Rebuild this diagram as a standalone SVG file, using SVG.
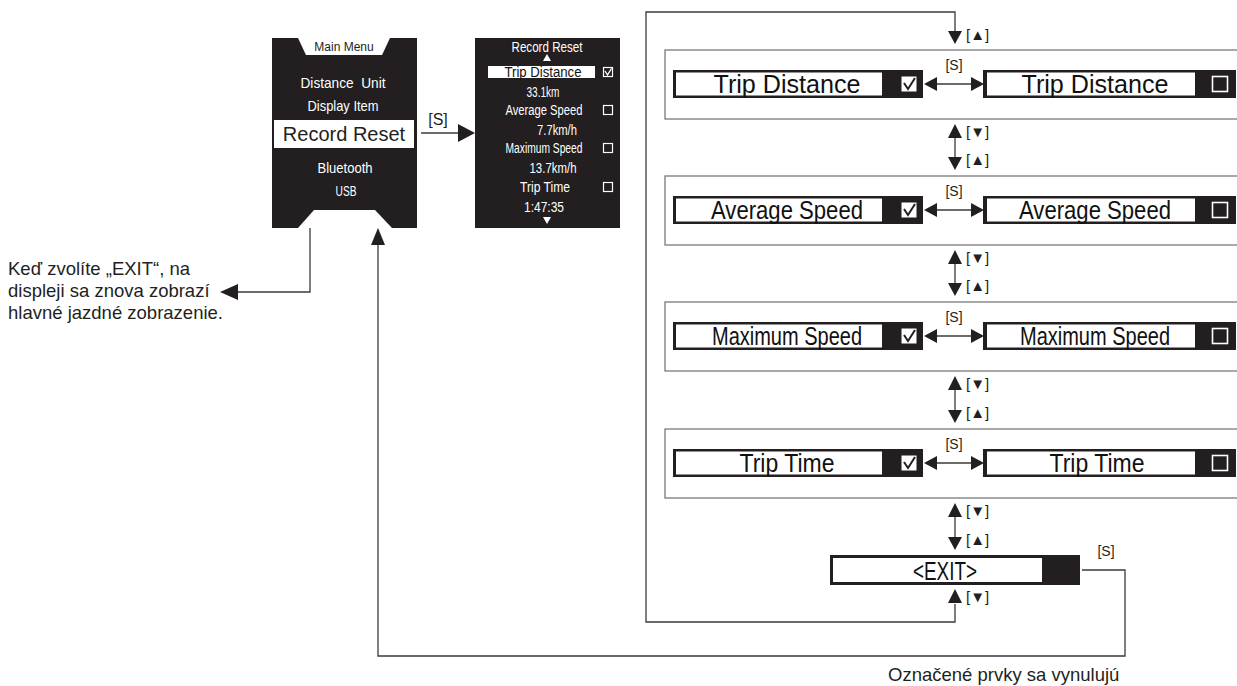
<svg xmlns="http://www.w3.org/2000/svg" width="1237" height="686" viewBox="0 0 1237 686">
<style>
.bg{fill:#ffffff}
.blk{fill:#231f20}
.wht{fill:#ffffff}
.scr{font-family:"Liberation Sans",Arial,sans-serif;text-anchor:middle}
.sw{fill:#ffffff}
.sb{fill:#111111}
.big{font-size:25px}
.mm{font-size:15px}
.rr{font-size:14px}
.lbl{font-family:"Liberation Sans",Arial,sans-serif;fill:#231f20}
.ln{fill:none;stroke:#3a3a3a;stroke-width:1.3}
.grp{fill:none;stroke:#7a7a7a;stroke-width:1.3}
.ah{fill:#231f20}
.cbw{fill:#ffffff;stroke:#231f20;stroke-width:1}
.chk{fill:none;stroke:#231f20;stroke-width:2}
.cbo{fill:#231f20;stroke:#ffffff;stroke-width:1.6}
.chkw{fill:none;stroke:#ffffff;stroke-width:1.4}
</style>
<defs>
<g id="rowL">
<rect class="blk" x="0" y="0" width="250" height="28"/>
<rect class="wht" x="3" y="2.5" width="206" height="23"/>
<rect class="cbw" x="228" y="6" width="16" height="16"/>
<polyline class="chk" points="231,13 235,19 242,8"/>
</g>
<g id="rowR">
<rect class="blk" x="0" y="0" width="253" height="28"/>
<rect class="wht" x="4" y="2.5" width="208" height="23"/>
<rect class="cbo" x="229.5" y="6.5" width="15" height="15"/>
</g>
</defs>
<rect class="bg" x="0" y="0" width="1237" height="686"/>

<g id="main-menu">
<rect class="blk" x="272" y="38" width="145" height="190"/>
<polygon class="wht" points="298,38 390,38 382,55 306,55"/>
<text class="lbl" x="344" y="51" font-size="12" text-anchor="middle">Main Menu</text>
<text class="scr sw mm" x="343" y="88" style="white-space:pre" textLength="85" lengthAdjust="spacingAndGlyphs">Distance  Unit</text>
<text class="scr sw mm" x="343" y="111" textLength="71" lengthAdjust="spacingAndGlyphs">Display Item</text>
<rect class="wht" x="274" y="120" width="140" height="28"/>
<text class="lbl" x="344" y="141" font-size="20" text-anchor="middle">Record Reset</text>
<text class="scr sw mm" x="345" y="173" textLength="55" lengthAdjust="spacingAndGlyphs">Bluetooth</text>
<text class="scr sw mm" x="346" y="196" textLength="21" lengthAdjust="spacingAndGlyphs">USB</text>
<polygon class="wht" points="314,210 375,210 392,228 298,228"/>
</g>

<g id="record-reset-screen">
<rect class="blk" x="475" y="38" width="145" height="190"/>
<text class="scr sw rr" x="547" y="52" textLength="71" lengthAdjust="spacingAndGlyphs">Record Reset</text>
<polygon class="wht" points="547,54 551,61 543,61"/>
<rect class="wht" x="488" y="66" width="107" height="12"/>
<text class="scr sb rr" x="543" y="77" textLength="77" lengthAdjust="spacingAndGlyphs">Trip Distance</text>
<rect fill="#231f20" stroke="#fff" stroke-width="1.2" x="603.5" y="67.5" width="9" height="9"/>
<polyline class="chkw" points="605,71 607.5,75 611.5,68.5"/>
<text class="scr sw rr" x="543" y="97" textLength="33" lengthAdjust="spacingAndGlyphs">33.1km</text>
<text class="scr sw rr" x="544" y="115" textLength="77" lengthAdjust="spacingAndGlyphs">Average Speed</text>
<rect fill="none" stroke="#fff" stroke-width="1.2" x="603.5" y="105.5" width="9" height="9"/>
<text class="scr sw rr" x="557" y="135" textLength="40" lengthAdjust="spacingAndGlyphs">7.7km/h</text>
<text class="scr sw rr" x="544" y="153" textLength="77" lengthAdjust="spacingAndGlyphs">Maximum Speed</text>
<rect fill="none" stroke="#fff" stroke-width="1.2" x="603.5" y="143.5" width="9" height="9"/>
<text class="scr sw rr" x="553" y="173" textLength="47" lengthAdjust="spacingAndGlyphs">13.7km/h</text>
<text class="scr sw rr" x="545" y="192" textLength="50" lengthAdjust="spacingAndGlyphs">Trip Time</text>
<rect fill="none" stroke="#fff" stroke-width="1.2" x="603.5" y="182.5" width="9" height="9"/>
<text class="scr sw rr" x="544" y="212" textLength="40" lengthAdjust="spacingAndGlyphs">1:47:35</text>
<polygon class="wht" points="543,217 551,217 547,224"/>
</g>

<g id="row-trip-distance">
<rect class="grp" x="665" y="50" width="600" height="69"/>
<use href="#rowL" x="673" y="70"/>
<text class="scr sb big" x="787" y="93" textLength="147" lengthAdjust="spacingAndGlyphs">Trip Distance</text>
<use href="#rowR" x="983" y="70"/>
<text class="scr sb big" x="1095" y="93" textLength="147" lengthAdjust="spacingAndGlyphs">Trip Distance</text>
</g>

<g id="row-average-speed">
<rect class="grp" x="665" y="176" width="600" height="69"/>
<use href="#rowL" x="673" y="196"/>
<text class="scr sb big" x="787" y="219" textLength="152" lengthAdjust="spacingAndGlyphs">Average Speed</text>
<use href="#rowR" x="983" y="196"/>
<text class="scr sb big" x="1095" y="219" textLength="152" lengthAdjust="spacingAndGlyphs">Average Speed</text>
</g>

<g id="row-maximum-speed">
<rect class="grp" x="665" y="302" width="600" height="69"/>
<use href="#rowL" x="673" y="322"/>
<text class="scr sb big" x="787" y="345" textLength="150" lengthAdjust="spacingAndGlyphs">Maximum Speed</text>
<use href="#rowR" x="983" y="322"/>
<text class="scr sb big" x="1095" y="345" textLength="150" lengthAdjust="spacingAndGlyphs">Maximum Speed</text>
</g>

<g id="row-trip-time">
<rect class="grp" x="665" y="429" width="600" height="69"/>
<use href="#rowL" x="673" y="449"/>
<text class="scr sb big" x="787" y="472" textLength="95" lengthAdjust="spacingAndGlyphs">Trip Time</text>
<use href="#rowR" x="983" y="449"/>
<text class="scr sb big" x="1097" y="472" textLength="95" lengthAdjust="spacingAndGlyphs">Trip Time</text>
</g>

<g id="exit">
<rect class="blk" x="830" y="555" width="250" height="30"/>
<rect class="wht" x="833" y="558" width="209" height="24"/>
<text class="scr sb big" x="945" y="580" textLength="64" lengthAdjust="spacingAndGlyphs">&lt;EXIT&gt;</text>
</g>

<g id="note-exit">
<text class="lbl" font-size="18.5" x="8" y="275">Keď zvolíte „EXIT“, na</text>
<text class="lbl" font-size="18.5" x="8" y="297">displeji sa znova zobrazí</text>
<text class="lbl" font-size="18.5" x="8" y="319">hlavné jazdné zobrazenie.</text>
</g>

<g id="note-reset">
<text class="lbl" font-size="18.5" x="888" y="681">Označené prvky sa vynulujú</text>
</g>

<g id="connectors">
<path class="ln" d="M421,133 H460"/>
<polygon class="ah" points="458,124 475,133 458,142"/>
<text class="lbl" font-size="16" x="438" y="125" text-anchor="middle">[S]</text>
<path class="ln" d="M310,228 V292 H236"/>
<polygon class="ah" points="238,284 238,300 220,292"/>
<path class="ln" d="M955,604 V622 H646 V12 H955 V32"/>
<polygon class="ah" points="948,31 962,31 955,44"/>
<text class="lbl" font-size="15" x="966" y="40">[▲]</text>
<g id="dbl1">
<path class="ln" d="M935,84 H973"/>
<polygon class="ah" points="937,77 937,91 924,84"/>
<polygon class="ah" points="971,77 971,91 984,84"/>
<text class="lbl" font-size="14" x="954" y="70" text-anchor="middle">[S]</text>
</g>
<g id="dbl2">
<path class="ln" d="M935,210 H973"/>
<polygon class="ah" points="937,203 937,217 924,210"/>
<polygon class="ah" points="971,203 971,217 984,210"/>
<text class="lbl" font-size="14" x="954" y="196" text-anchor="middle">[S]</text>
</g>
<g id="dbl3">
<path class="ln" d="M935,336 H973"/>
<polygon class="ah" points="937,329 937,343 924,336"/>
<polygon class="ah" points="971,329 971,343 984,336"/>
<text class="lbl" font-size="14" x="954" y="322" text-anchor="middle">[S]</text>
</g>
<g id="dbl4">
<path class="ln" d="M935,463 H973"/>
<polygon class="ah" points="937,456 937,470 924,463"/>
<polygon class="ah" points="971,456 971,470 984,463"/>
<text class="lbl" font-size="14" x="954" y="449" text-anchor="middle">[S]</text>
</g>
<g id="v1">
<path class="ln" d="M955,136 V158"/>
<polygon class="ah" points="955,124 962,138 948,138"/>
<polygon class="ah" points="948,157 962,157 955,170"/>
<text class="lbl" font-size="15" x="966" y="137">[▼]</text>
<text class="lbl" font-size="15" x="966" y="165">[▲]</text>
</g>
<g id="v2">
<path class="ln" d="M955,262 V284"/>
<polygon class="ah" points="955,250 962,264 948,264"/>
<polygon class="ah" points="948,283 962,283 955,296"/>
<text class="lbl" font-size="15" x="966" y="263">[▼]</text>
<text class="lbl" font-size="15" x="966" y="291">[▲]</text>
</g>
<g id="v3">
<path class="ln" d="M955,388 V411"/>
<polygon class="ah" points="955,376 962,390 948,390"/>
<polygon class="ah" points="948,410 962,410 955,423"/>
<text class="lbl" font-size="15" x="966" y="389">[▼]</text>
<text class="lbl" font-size="15" x="966" y="418">[▲]</text>
</g>
<g id="v4">
<path class="ln" d="M955,515 V538"/>
<polygon class="ah" points="955,503 962,517 948,517"/>
<polygon class="ah" points="948,537 962,537 955,550"/>
<text class="lbl" font-size="15" x="966" y="516">[▼]</text>
<text class="lbl" font-size="15" x="966" y="545">[▲]</text>
</g>
<polygon class="ah" points="955,589 962,603 948,603"/>
<text class="lbl" font-size="15" x="966" y="602">[▼]</text>
<path class="ln" d="M1082,570 H1125 V656 H378 V243"/>
<polygon class="ah" points="378,228 385,245 371,245"/>
<text class="lbl" font-size="14" x="1106" y="556" text-anchor="middle">[S]</text>
</g>
</svg>
